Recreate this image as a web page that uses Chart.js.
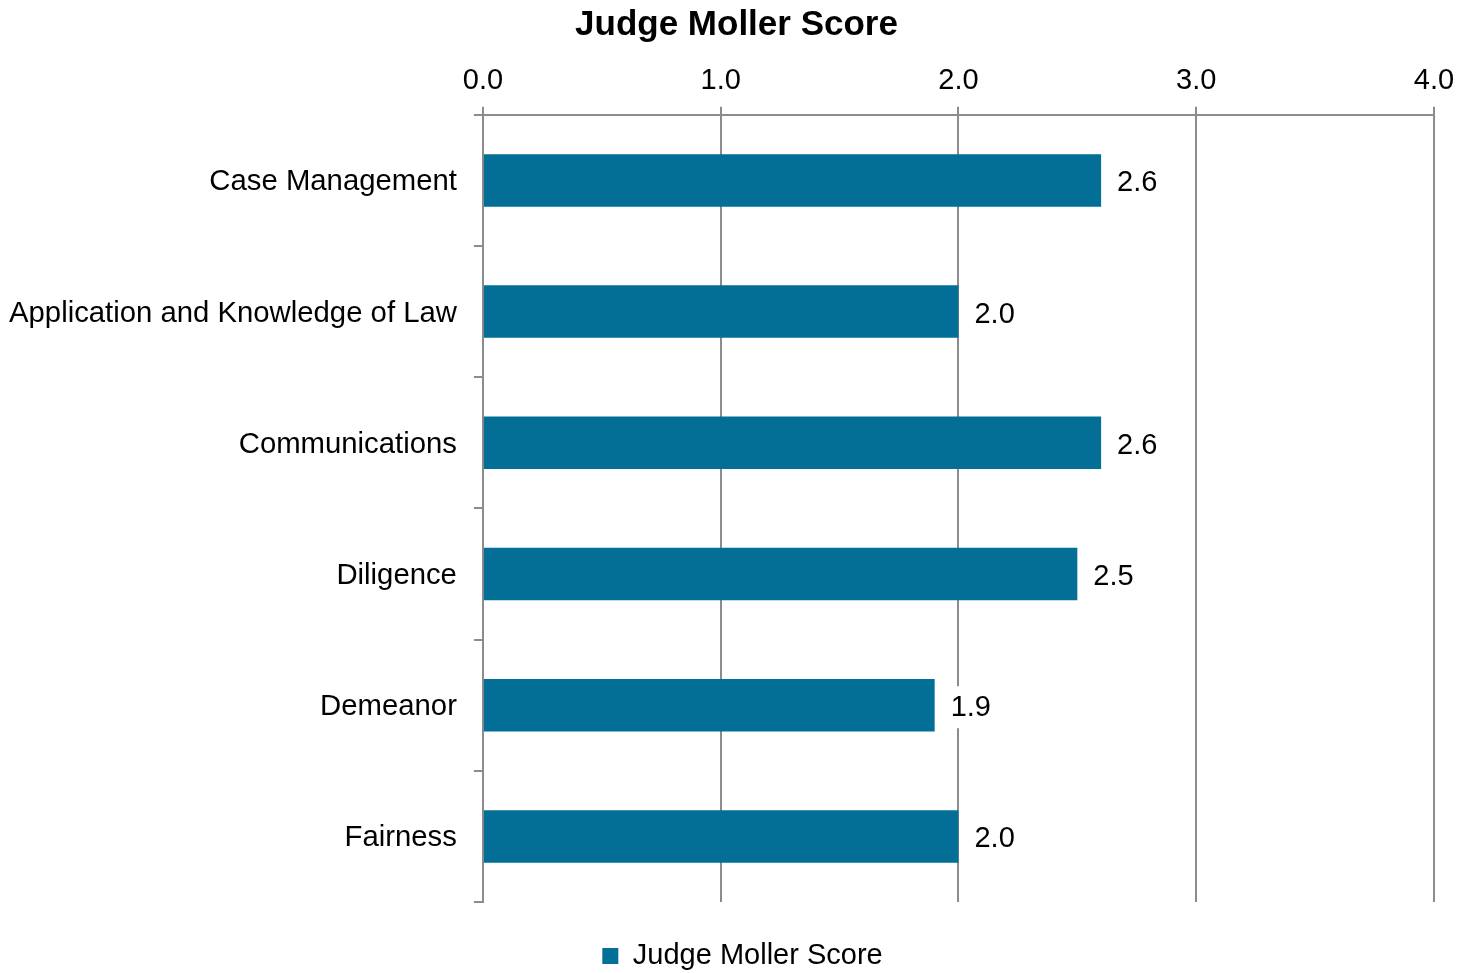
<!DOCTYPE html>
<html>
<head>
<meta charset="utf-8">
<script src="https://cdn.jsdelivr.net/npm/chart.js@4"></script>
<style>
  html, body { margin: 0; padding: 0; background: #fff; }
  #wrap { width: 1473px; height: 973px; }
</style>
</head>
<body>
<div id="wrap"><canvas id="myChart"></canvas></div>
<script>
const categories = ['Case Management', 'Application and Knowledge of Law', 'Communications', 'Diligence', 'Demeanor', 'Fairness'];
const scores = [2.6, 2.0, 2.6, 2.5, 1.9, 2.0];
const seriesName = 'Judge Moller Score';
const xTicks = [0, 1, 2, 3, 4];

const barColor = '#036F96';
const gridColor = '#8c8c8c';
const fontFamily = '"Liberation Sans", Arial, sans-serif';

// value labels at the end of each bar, on a white box
const valueLabels = {
  id: 'valueLabels',
  afterDatasetsDraw(chart) {
    const ctx = chart.ctx;
    const meta = chart.getDatasetMeta(0);
    ctx.save();
    ctx.font = '29px ' + fontFamily;
    ctx.textBaseline = 'middle';
    ctx.textAlign = 'left';
    meta.data.forEach((bar, i) => {
      const txt = scores[i].toFixed(1);
      const x = bar.x + 16;
      const y = bar.y + 3;
      const w = ctx.measureText(txt).width;
      ctx.fillStyle = '#fff';
      ctx.fillRect(x - 4, y - 22, w + 8, 42);
      ctx.fillStyle = '#000';
      ctx.fillText(txt, x, y);
    });
    ctx.restore();
  }
};

// title and legend are centred on the page, not on the padded area
const recentre = {
  id: 'recentre',
  afterLayout(chart) {
    if (chart.titleBlock) { chart.titleBlock.left = 0; chart.titleBlock.right = chart.width; }
    if (chart.legend) { chart.legend.left = 12; chart.legend.right = chart.width; }
  }
};

new Chart(document.getElementById('myChart').getContext('2d'), {
  type: 'bar',
  data: {
    labels: categories,
    datasets: [{
      label: seriesName,
      data: scores,
      backgroundColor: barColor,
      borderWidth: 0,
      categoryPercentage: 1.0,
      barPercentage: 0.4
    }]
  },
  options: {
    indexAxis: 'y',
    responsive: true,
    maintainAspectRatio: false,
    animation: false,
    layout: { padding: { left: -8, right: 39, top: 4, bottom: -7.5 } },
    plugins: {
      title: {
        display: true,
        text: seriesName,
        color: '#000',
        font: { family: fontFamily, size: 35, weight: 'bold' },
        padding: { top: 0, bottom: 10 }
      },
      legend: {
        position: 'bottom',
        labels: {
          color: '#000',
          font: { family: fontFamily, size: 29 },
          boxWidth: 16,
          boxHeight: 16,
          padding: 39.5
        }
      },
      tooltip: { enabled: false }
    },
    scales: {
      x: {
        position: 'top',
        min: 0,
        max: 4,
        afterBuildTicks(axis) { axis.ticks = xTicks.map(v => ({ value: v })); },
        ticks: {
          color: '#000',
          font: { family: fontFamily, size: 29 },
          padding: 8,
          callback: v => Number(v).toFixed(1)
        },
        grid: { color: gridColor, lineWidth: 2, tickLength: 8, drawOnChartArea: true },
        border: { color: gridColor, width: 2 }
      },
      y: {
        ticks: {
          color: '#000',
          font: { family: fontFamily, size: 29.3 },
          padding: 17,
          labelOffset: 2
        },
        grid: { offset: true, color: gridColor, lineWidth: 2, tickLength: 9, drawOnChartArea: false },
        border: { color: gridColor, width: 2 }
      }
    }
  },
  plugins: [valueLabels, recentre]
});
</script>
</body>
</html>
